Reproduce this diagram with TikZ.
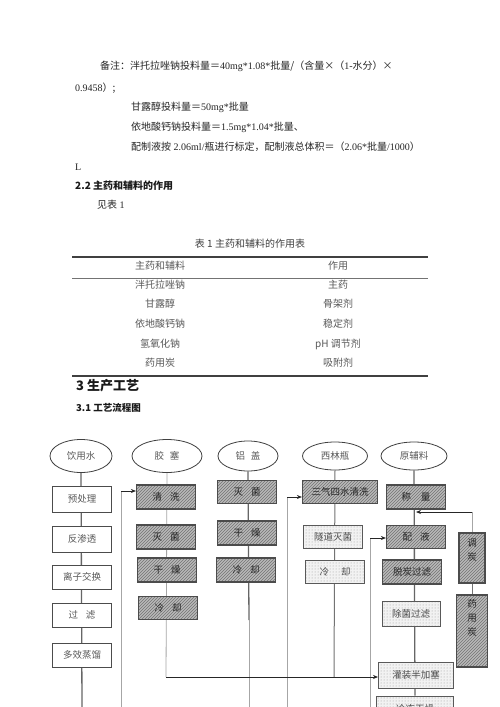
\documentclass[tikz,border=0pt]{standalone}
\usepackage{fontspec}
\setmainfont{Liberation Serif}
\newfontfamily\cjk{Noto Sans CJK SC}
\usetikzlibrary{shapes.geometric,arrows.meta,patterns,backgrounds}
\begin{document}
\begin{tikzpicture}[x=1pt,y=-1pt,
  txt/.style={anchor=west,inner sep=0pt,text=black!85,font=\fontsize{10}{12}\selectfont},
  htxt/.style={anchor=west,inner sep=0pt,text=black!90,font=\cjk\bfseries\fontsize{10}{12}\selectfont},
  ttxt/.style={inner sep=0pt,text=black!65,font=\cjk\fontsize{10}{12}\selectfont},
  rulethick/.style={draw=black!75,line width=1.4pt},
  rulethin/.style={draw=black!55,line width=0.6pt},
  oval/.style={ellipse,draw=black!75,line width=0.8pt,fill=white,inner sep=0pt,text=black!65,font=\cjk\fontsize{9.5}{11}\selectfont},
  fbase/.style={rectangle,inner sep=0pt,text=black!65,font=\cjk\fontsize{9.5}{11}\selectfont,minimum height=24pt,minimum width=59pt},
  wbox/.style={fbase,draw=black!70,line width=1pt,fill=white},
  hbox/.style={fbase,draw=black!70,line width=1.2pt,text=black!85,preaction={fill=gray!55},pattern=north east lines,pattern color=black!55},
  dbox/.style={fbase,draw=black!65,line width=1pt,text=black!70,preaction={fill=gray!10},pattern=dots,pattern color=black!40},
  vtxt/.style={inner sep=0pt,align=center,text=black!85,font=\cjk\fontsize{9.5}{14}\selectfont},
  dline/.style={draw=black!60,line width=1.3pt},
  mline/.style={draw=black!55,line width=1pt},
  lline/.style={draw=black!35,line width=0.8pt},
  arr/.style={draw=black!85,line width=0.8pt,-{Stealth[length=5pt,width=4pt]}},
]
\useasboundingbox (0,0) rectangle (500,707);

% ---------- notes ----------
\node[txt] (n1) at (100,66) {{\cjk 备注：泮托拉唑钠投料量＝}40mg*1.08*{\cjk 批量/（含量×（}1-{\cjk 水分）×}};
\node[txt] (n2) at (75,88) {0.9458{\cjk ）;}};
\node[txt] (n3) at (131,107) {{\cjk 甘露醇投料量＝}50mg*{\cjk 批量}};
\node[txt] (n4) at (131,127) {{\cjk 依地酸钙钠投料量＝}1.5mg*1.04*{\cjk 批量、}};
\node[txt] (n5) at (131,147) {{\cjk 配制液按} 2.06ml/{\cjk 瓶进行标定，配制液总体积＝（}2.06*{\cjk 批量}/1000{\cjk ）}};
\node[txt] (n6) at (75,167) {L};
\node[htxt] (h22) at (75,186) {2.2 主药和辅料的作用};
\node[txt] (n7) at (97,205) {{\cjk 见表} 1};

% ---------- table ----------
\node[ttxt,text=black!75] (cap) at (250,244) {表 1 主药和辅料的作用表};
\draw[rulethick] (72,257) -- (428,257);
\draw[rulethin] (72,278) -- (428,278);
\draw[rulethick] (72,376) -- (428,376);
\node[ttxt] (th1) at (160,266) {主药和辅料};
\node[ttxt] (th2) at (338,266) {作用};
\node[ttxt] (r1a) at (160,285) {泮托拉唑钠};
\node[ttxt] (r1b) at (338,285) {主药};
\node[ttxt] (r2a) at (160,304) {甘露醇};
\node[ttxt] (r2b) at (338,304) {骨架剂};
\node[ttxt] (r3a) at (160,324) {依地酸钙钠};
\node[ttxt] (r3b) at (338,324) {稳定剂};
\node[ttxt] (r4a) at (160,344) {氢氧化钠};
\node[ttxt] (r4b) at (338,344) {pH 调节剂};
\node[ttxt] (r5a) at (160,363) {药用炭};
\node[ttxt] (r5b) at (338,363) {吸附剂};

\node[htxt,font=\cjk\bfseries\fontsize{13}{15}\selectfont] (h3) at (76,386) {3 生产工艺};
\node[htxt,font=\cjk\bfseries\fontsize{9.5}{12}\selectfont] (h31) at (76,408) {3.1 工艺流程图};

% ---------- flow chart: ovals ----------
\node[oval,minimum width=62pt,minimum height=33pt] (e1) at (81,456) {饮用水};
\node[oval,minimum width=70pt,minimum height=33pt] (e2) at (167,456) {胶\hspace{6pt}塞};
\node[oval,minimum width=60pt,minimum height=30pt] (e3) at (248,456) {铝\hspace{6pt}盖};
\node[oval,minimum width=65pt,minimum height=28pt] (e4) at (335,456) {西林瓶};
\node[oval,minimum width=66pt,minimum height=28pt] (e5) at (414,456) {原辅料};

% column 1
\node[wbox,minimum height=26pt] (a1) at (82,499) {预处理};
\node[wbox,minimum height=26pt] (a2) at (82,539) {反渗透};
\node[wbox] (a3) at (82,577) {离子交换};
\node[wbox] (a4) at (82,615) {过\hspace{8pt}滤};
\node[wbox] (a5) at (82,655) {多效蒸馏};

% column 2
\node[hbox] (b1) at (166,497) {清\hspace{8pt}洗};
\node[hbox] (b2) at (166,537) {灭\hspace{8pt}菌};
\node[hbox] (b3) at (167,570) {干\hspace{8pt}燥};
\node[hbox,minimum height=23pt] (b4) at (168,608) {冷\hspace{8pt}却};

% column 3
\node[hbox,minimum height=23pt] (c1) at (247,492) {灭\hspace{8pt}菌};
\node[hbox] (c2) at (247,533) {干\hspace{8pt}燥};
\node[hbox] (c3) at (246,570) {冷\hspace{8pt}却};

% column 4
\node[hbox,minimum width=75pt,minimum height=23pt] (d1) at (340,492) {三气四水清洗};
\node[dbox,minimum height=23pt] (d2) at (333,537) {隧道灭菌};
\node[dbox,minimum height=23pt] (d3) at (335,572) {冷\hspace{12pt}却};

% column 5
\node[hbox] (f1) at (416,497) {称\hspace{10pt}量};
\node[hbox,minimum height=23pt] (f2) at (416,537) {配\hspace{8pt}液};
\node[hbox] (f3) at (412,572) {脱炭过滤};
\node[dbox,minimum height=25pt,minimum width=58pt] (f4) at (411,614) {除菌过滤};
\node[dbox,minimum height=26pt,minimum width=75pt] (f5) at (416,675) {灌装半加塞};
\node[dbox,minimum height=26pt,minimum width=77pt] (f6) at (415,709) {冷冻干燥};

% side column
\node[hbox,minimum width=26pt,minimum height=50pt] (g1) at (472,558) {};
\node[vtxt] (g1t) at (472,550) {调\\炭};
\node[hbox,minimum width=31pt,minimum height=72pt] (g2) at (472,631) {};
\node[vtxt] (g2t) at (472,618) {药\\用\\炭};

% ---------- coordinates ----------
\coordinate (p1end) at (82,707);
\coordinate (q2top) at (121,491);
\coordinate (q2bot) at (121,707);
\coordinate (k2) at (166,677);
\coordinate (p3mid) at (249,620);
\coordinate (p3end) at (249,707);
\coordinate (q3top) at (287,497);
\coordinate (q3bot) at (287,707);
\coordinate (k4) at (334,677);
\coordinate (q4top) at (370,538);
\coordinate (q4bot) at (370,707);
\coordinate (tj) at (416,512);
\coordinate (tjc) at (472,512);

\begin{scope}[on background layer]
  \fill[white] (0,0) rectangle (500,707);
  \draw[dline] (e1.south) -- (p1end);
  \draw[lline] (e2.south) -- (k2);
  \draw[dline] (e3.south) -- (p3mid);
  \draw[lline] (p3mid) -- (p3end);
  \draw[mline] (e4.south) -- (k4);
  \draw[dline] (e5.south) -- (f6.north);
  \draw[lline] (q2bot) -- (q2top);
  \draw[lline] (q3bot) -- (q3top);
  \draw[lline] (q4bot) -- (q4top);
  \draw[mline] (g1.south) -- (g2.north);
  \draw[lline] (g1.north) -- (tjc);
\end{scope}
\draw[arr] (q2top) -- (b1.west |- q2top);
\draw[arr] (q3top) -- (d1.west |- q3top);
\draw[arr] (q4top) -- (f2.west |- q4top);
\draw[arr] (tjc) -- (tj);
\draw[arr] (k2) -- (f5.west |- k2);
\end{tikzpicture}
\end{document}
